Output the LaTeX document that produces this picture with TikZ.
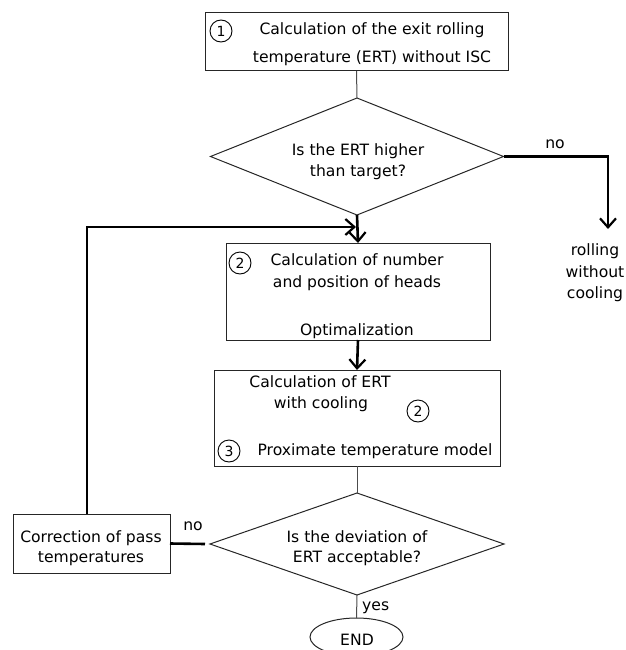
\documentclass[tikz,border=0pt]{standalone}
\usepackage{fontspec}
\setmainfont{DejaVu Sans}
\usetikzlibrary{shapes.geometric,arrows.meta}
\begin{document}
\begin{tikzpicture}[x=1pt,y=-1pt,
  every node/.style={font=\fontsize{15.6}{20}\selectfont},
  box/.style={draw=black!85,line width=1pt,rectangle,inner sep=0,outer sep=0},
  dia/.style={draw=black!85,line width=1pt,diamond,inner sep=0,outer sep=0},
  endshape/.style={draw=black!85,line width=1pt,ellipse,inner sep=0,outer sep=0,minimum width=93,minimum height=38},
  txt/.style={anchor=base,inner sep=0},
  num/.style={draw=black,line width=0.9pt,circle,minimum size=22,inner sep=0,font=\fontsize{14}{14}\selectfont},
  thin/.style={draw=black!70,line width=1pt},
  heavy/.style={draw=black,line width=2.6pt},
  arr/.style={-{Straight Barb[length=9pt,width=16pt,line width=2.2pt]}}
]
\useasboundingbox (0,0) rectangle (625,650);
\clip (0,0) rectangle (625,650);

% shapes
\node[box,minimum width=303,minimum height=58] (b1) at (356.5,42) {};
\node[dia,minimum width=293,minimum height=117] (d1) at (357,156.5) {};
\node[box,minimum width=264,minimum height=97] (b2) at (358,291.5) {};
\node[box,minimum width=286,minimum height=96] (b3) at (357,418) {};
\node[dia,minimum width=294,minimum height=102] (d2) at (357,544) {};
\node[box,minimum width=157,minimum height=59] (corr) at (91.5,543.5) {};
\node[endshape] (end) at (356.5,637) {};

% texts
\node[txt] (t1a) at (372,35) {Calculation of the exit rolling};
\node[txt] (t1b) at (372,63) {temperature (ERT) without ISC};
\node[num] (n1) at (221,31) {1};

\node[txt] (q1a) at (358,155) {Is the ERT higher};
\node[txt] (q1b) at (358,176) {than target?};
\node[txt] (no1) at (555,148) {no};

\node[txt] (r1) at (595,255) {rolling};
\node[txt] (r2) at (595,277) {without};
\node[txt] (r3) at (595,298) {cooling};

\node[txt] (t2a) at (357,265) {Calculation of number};
\node[txt] (t2b) at (357,287) {and position of heads};
\node[txt] (t2c) at (357,335) {Optimalization};
\node[num] (n2) at (240,263) {2};

\node[txt] (t3a) at (320,387) {Calculation of ERT};
\node[txt] (t3b) at (321,408) {with cooling};
\node[txt] (t3c) at (375,455) {Proximate temperature model};
\node[num] (n2b) at (418,411) {2};
\node[num] (n3) at (229,451) {3};

\node[txt] (q2a) at (357,542) {Is the deviation of};
\node[txt] (q2b) at (357,562) {ERT acceptable?};
\node[txt] (no2) at (193,530) {no};

\node[txt] (c1) at (91,542) {Correction of pass};
\node[txt] (c2) at (91,562) {temperatures};

\node[txt,anchor=base west] (yes) at (362,610) {yes};
\node[txt] (endt) at (357,645) {END};

% connectors
\coordinate (rc) at (608,229);
\coordinate (loop) at (87,227);
\draw[thin] (b1.south) -- (d1.north);
\draw[heavy,arr] (d1.east) -| (rc);
\draw[heavy,arr] (d1.south) -- (b2.north);
\draw[heavy,arr] (loop |- corr.north) -- (loop) -- ([xshift=-2]b2.north |- loop);
\draw[heavy,arr] (b2.south) -- (b3.north);
\draw[thin] (b3.south) -- (d2.north);
\draw[heavy] ([xshift=-5]d2.west) -- (corr.east);
\draw[thin] (d2.south) -- (end.north);
\end{tikzpicture}
\end{document}
